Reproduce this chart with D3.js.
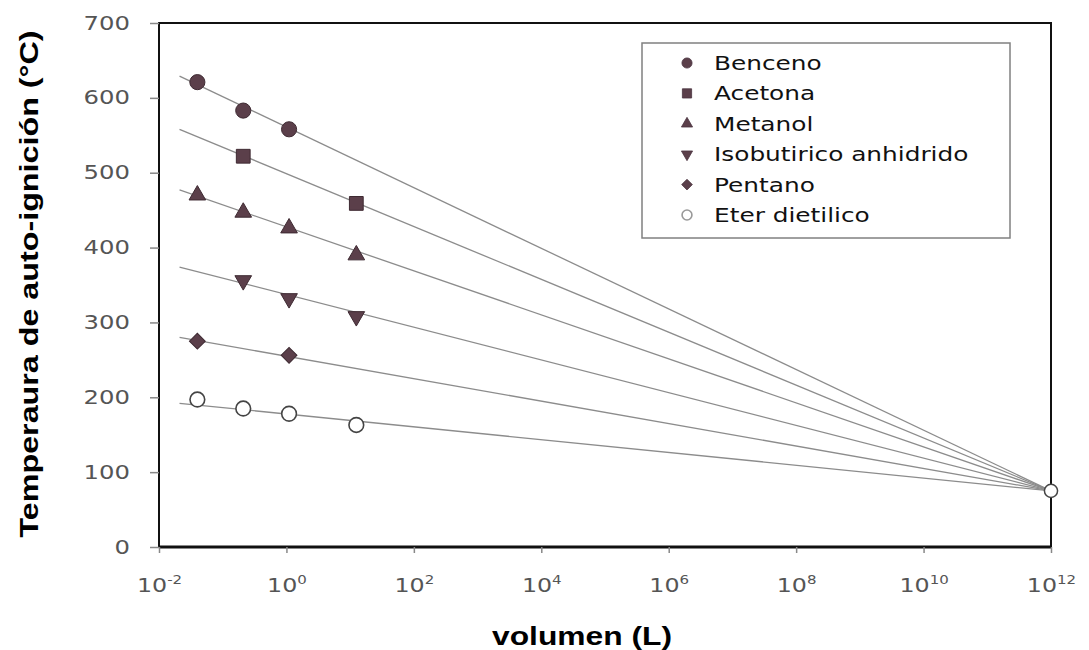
<!DOCTYPE html>
<meta charset="UTF-8">
<head>
    <title>Temperatura de auto-ignición vs volumen</title>
    <style>
        body { margin: 0; background: #fff; }
    </style>
</head>
<body>
<svg width="1089" height="650"></svg>
<script src="https://d3js.org/d3.v7.min.js"></script>
<script>

// Series names (legend order).
var nombres = ["Benceno", "Acetona", "Metanol", "Isobutirico anhidrido", "Pentano", "Eter dietilico"];

var volBenceno = [0.04, 0.21, 1.1];
var tempBenceno = [621, 583, 558];
var volAcetona = [0.21, 12.5];
var tempAcetona = [522, 459];
var volMetanol = [0.04, 0.21, 1.1, 12.5];
var tempMetanol = [470, 447, 426, 390];
var volIsobutirico = [0.21, 1.1, 12.5];
var tempIsobutirico = [356, 332, 308];
var volPentano = [0.04, 1.1];
var tempPentano = [275, 256];
var volEter = [0.04, 0.21, 1.1, 12.5];
var tempEter = [197, 185, 178, 163];

// Trend lines: start at this volume, all end at the common point.
var volInicioRecta = 0.021;
var tempInicioRecta = [629, 558, 477, 374, 280, 192];
var puntoFinal = [1e12, 75];

// Axis ticks.
var exponentesX = [-2, 0, 2, 4, 6, 8, 10, 12];
var ticksY = [0, 100, 200, 300, 400, 500, 600, 700];

var vols = [volBenceno, volAcetona, volMetanol, volIsobutirico, volPentano, volEter];
var temps = [tempBenceno, tempAcetona, tempMetanol, tempIsobutirico, tempPentano, tempEter];

var svg = d3.select("svg");

var x = d3.scaleLog().domain([1e-2, 1e12]).range([159, 1051]);
var y = d3.scaleLinear().domain([0, 700]).range([547, 23]);

var colorMarca = "#5b3f4a";

// Marker shapes: circle, square, triangle, down triangle, diamond, hollow circle.
var formas = [
    { tipo: d3.symbolCircle, giro: 0, area: 180 },
    { tipo: d3.symbolSquare, giro: 0, area: 190 },
    { tipo: d3.symbolTriangle, giro: 0, area: 120 },
    { tipo: d3.symbolTriangle, giro: 180, area: 120 },
    { tipo: d3.symbolSquare, giro: 45, area: 125 },
    { tipo: d3.symbolCircle, giro: 0, area: 170 }
];

// Plot box.
svg.append("rect")
    .attr("x", x(1e-2)).attr("y", y(700))
    .attr("width", x(1e12) - x(1e-2)).attr("height", y(0) - y(700))
    .attr("fill", "none").attr("stroke", "#111").attr("stroke-width", 2);
svg.append("line")
    .attr("x1", x(1e-2)).attr("x2", x(1e12))
    .attr("y1", y(0)).attr("y2", y(0))
    .attr("stroke", "#111").attr("stroke-width", 3);

// Y axis.
var ejeY = svg.append("g")
    .attr("transform", "translate(" + x(1e-2) + ",0)")
    .call(d3.axisLeft(y).tickValues(ticksY).tickSize(9).tickFormat(d3.format("d")))
    .attr("font-family", "'DejaVu Sans', Verdana, sans-serif")
    .attr("font-size", 19);
ejeY.select(".domain").remove();
ejeY.selectAll("line").attr("stroke", "#888").attr("stroke-width", 1.5);
ejeY.selectAll("text")
    .attr("fill", "#555")
    .attr("x", -29 / 1.28)
    .attr("transform", "scale(1.28,1)");

// X axis with 10^n labels.
var ejeX = svg.append("g")
    .attr("transform", "translate(0," + y(0) + ")")
    .call(d3.axisBottom(x)
        .tickValues(exponentesX.map(function(e) { return Math.pow(10, e); }))
        .tickSize(6)
        .tickFormat(""))
    .attr("font-family", "'DejaVu Sans', Verdana, sans-serif")
    .attr("font-size", 19);
ejeX.select(".domain").remove();
ejeX.selectAll("line").attr("stroke", "#888").attr("stroke-width", 1.5);
ejeX.selectAll("text")
    .attr("fill", "#555")
    .attr("y", 45).attr("dy", 0)
    .attr("transform", "scale(1.25,1)")
    .each(function(d, i) {
        var t = d3.select(this);
        t.append("tspan").text("10");
        t.append("tspan").attr("dy", -8).attr("font-size", 12).text(exponentesX[i]);
    });

// Trend lines.
var linea = d3.line()
    .x(function(d) { return x(d[0]); })
    .y(function(d) { return y(d[1]); });

svg.append("g").selectAll("path")
    .data(tempInicioRecta)
    .enter().append("path")
    .attr("d", function(t) { return linea([[volInicioRecta, t], puntoFinal]); })
    .attr("fill", "none")
    .attr("stroke", "#8c8c8c")
    .attr("stroke-width", 1.3);

// Markers.
function simbolo(f, escala) {
    return d3.symbol().type(f.tipo).size(f.area * escala)();
}

nombres.forEach(function(nombre, s) {
    var puntos = vols[s].map(function(v, i) { return [v, temps[s][i]]; });
    var hueco = s == 5;
    svg.append("g").selectAll("path")
        .data(puntos)
        .enter().append("path")
        .attr("d", simbolo(formas[s], 1))
        .attr("transform", function(d) {
            return "translate(" + x(d[0]) + "," + y(d[1]) + ") rotate(" + formas[s].giro + ")";
        })
        .attr("fill", hueco ? "#fff" : colorMarca)
        .attr("stroke", hueco ? "#444" : "#3e2a32")
        .attr("stroke-width", hueco ? 1.6 : 1);
});

// Common end point.
svg.append("path")
    .attr("d", simbolo(formas[5], 0.8))
    .attr("transform", "translate(" + x(puntoFinal[0]) + "," + y(puntoFinal[1]) + ")")
    .attr("fill", "#fff").attr("stroke", "#444").attr("stroke-width", 1.5);

// Legend.
var leyenda = svg.append("g");
leyenda.append("rect")
    .attr("x", 642).attr("y", 43).attr("width", 368).attr("height", 195)
    .attr("fill", "#fff").attr("stroke", "#808080").attr("stroke-width", 1.5);

var item = leyenda.selectAll(".item")
    .data(nombres)
    .enter().append("g")
    .attr("class", "item")
    .attr("transform", function(d, i) { return "translate(0," + (63 + i * 30.4) + ")"; });

item.append("path")
    .attr("d", function(d, i) { return simbolo(formas[i], 0.45); })
    .attr("transform", function(d, i) { return "translate(687,0) rotate(" + formas[i].giro + ")"; })
    .attr("fill", function(d, i) { return i == 5 ? "#fff" : colorMarca; })
    .attr("stroke", function(d, i) { return i == 5 ? "#999" : "#4a3440"; })
    .attr("stroke-width", function(d, i) { return i == 5 ? 1.6 : 0.8; });

item.append("text")
    .attr("x", 714 / 1.24)
    .attr("y", 7)
    .attr("transform", "scale(1.24,1)")
    .attr("font-family", "'DejaVu Sans', Verdana, sans-serif")
    .attr("font-size", 20)
    .attr("fill", "#111")
    .text(function(d) { return d; });

// Axis titles.
svg.append("text")
    .attr("transform", "translate(38,284) rotate(-90)")
    .attr("text-anchor", "middle")
    .attr("font-family", "'Liberation Sans', Arial, sans-serif")
    .attr("font-weight", "bold")
    .attr("font-size", 25)
    .attr("textLength", 507)
    .attr("lengthAdjust", "spacingAndGlyphs")
    .text("Temperaura de auto-ignición (°C)");

svg.append("text")
    .attr("x", 582).attr("y", 645)
    .attr("text-anchor", "middle")
    .attr("font-family", "'Liberation Sans', Arial, sans-serif")
    .attr("font-weight", "bold")
    .attr("font-size", 25)
    .attr("textLength", 180)
    .attr("lengthAdjust", "spacingAndGlyphs")
    .text("volumen (L)");

</script>
</body>
